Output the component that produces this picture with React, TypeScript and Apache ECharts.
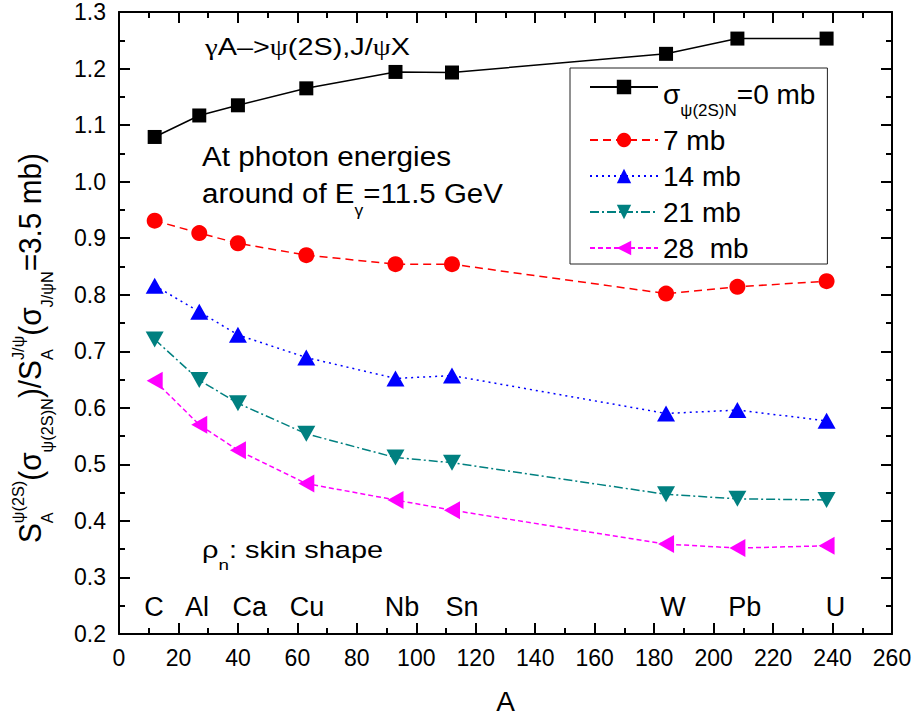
import React, { useEffect, useRef } from 'react';
import * as echarts from 'echarts';

// ---------- data ----------
const massNumbers = [12, 27, 40, 63, 93, 112, 184, 208, 238];
const ratio0mb = [1.079, 1.117, 1.135, 1.165, 1.194, 1.193, 1.226, 1.253, 1.253];
const ratio7mb = [0.931, 0.909, 0.891, 0.87, 0.854, 0.854, 0.802, 0.814, 0.824];
const ratio14mb = [0.816, 0.77, 0.729, 0.689, 0.652, 0.657, 0.59, 0.596, 0.577];
const ratio21mb = [0.721, 0.649, 0.608, 0.554, 0.512, 0.503, 0.447, 0.439, 0.437];
const ratio28mb = [0.648, 0.57, 0.525, 0.466, 0.437, 0.419, 0.359, 0.352, 0.356];
const seriesNames = ['σψ(2S)N=0 mb', '7 mb', '14 mb', '21 mb', '28  mb'];
const nucleusNames = ['C', 'Al', 'Ca', 'Cu', 'Nb', 'Sn', 'W', 'Pb', 'U'];
const nucleusLabelA = [11.8, 26.2, 44, 63.2, 95.2, 115.4, 186.3, 210.5, 241];
const nucleusLabelY = 0.248;
const xMin = 0;
const xMax = 260;
const xStep = 20;
const yMin = 0.2;
const yMax = 1.3;
const yStep = 0.1;

const allSeries = [ratio0mb, ratio7mb, ratio14mb, ratio21mb, ratio28mb];

const FONT = 'Liberation Sans';
const SERIF = 'Liberation Serif';

const seriesStyles = [
  { color: '#000000', symbol: 'rect', size: 14, dash: 'solid' as any },
  { color: '#ff0000', symbol: 'circle', size: 16, dash: [8, 5] },
  { color: '#0000ff', symbol: 'triangle', size: [18, 16], dash: [2, 4] },
  { color: '#008080', symbol: 'path://M0,0L10,0L5,10Z', size: [18, 16], dash: [9, 3, 2, 3] },
  { color: '#ff00ff', symbol: 'path://M0,5L10,0L10,10Z', size: [16, 18], dash: [5, 3] },
];

// ---------- text layout helpers ----------
type Piece = { t: string; size: number; dy: number; serif?: boolean };
let measureCtx: CanvasRenderingContext2D | null = null;
function measure(t: string, size: number, serif?: boolean) {
  if (!measureCtx) measureCtx = document.createElement('canvas').getContext('2d');
  if (!measureCtx) return t.length * size * 0.55;
  measureCtx.font = `${size}px "${serif ? SERIF : FONT}"`;
  return measureCtx.measureText(t).width;
}

function layoutRuns(cols: Piece[][], x0: number, y0: number, target?: number) {
  const widths = cols.map((c) => Math.max(...c.map((p) => measure(p.t, p.size, p.serif))));
  const total = widths.reduce((a, b) => a + b, 0);
  const sx = target ? target / total : 1;
  const els: any[] = [];
  let cx = 0;
  cols.forEach((c, i) => {
    c.forEach((p) => {
      els.push({
        type: 'text',
        x: x0 + cx * sx,
        y: y0 + p.dy,
        scaleX: sx,
        silent: true,
        style: {
          text: p.t,
          fontSize: p.size,
          fontFamily: p.serif ? SERIF : FONT,
          fill: '#000',
          align: 'left',
          verticalAlign: 'middle',
          textAlign: 'left',
          textVerticalAlign: 'middle',
        },
      });
    });
    cx += widths[i];
  });
  return els;
}

function buildGraphics() {
  const M = 31;
  const s = 17;
  const yTitle: Piece[][] = [
    [{ t: 'S', size: M, dy: 0 }],
    [{ t: 'ψ(2S)', size: s, dy: -12 }, { t: 'A', size: s, dy: 17 }],
    [{ t: '(σ', size: M, dy: 0 }],
    [{ t: 'ψ(2S)N', size: s, dy: 17 }],
    [{ t: ')/S', size: M, dy: 0 }],
    [{ t: 'J/ψ', size: s, dy: -12 }, { t: 'A', size: s, dy: 17 }],
    [{ t: '(σ', size: M, dy: 0 }],
    [{ t: 'J/ψN', size: s, dy: 17 }],
    [{ t: '=3.5 mb)', size: M, dy: 0 }],
  ];
  const line1: Piece[][] = [
    [{ t: 'γ', size: 23, dy: 0, serif: true }],
    [{ t: 'A–>', size: 23, dy: 0 }],
    [{ t: 'ψ', size: 23, dy: 0, serif: true }],
    [{ t: '(2S),J/', size: 23, dy: 0 }],
    [{ t: 'ψ', size: 23, dy: 0, serif: true }],
    [{ t: 'X', size: 23, dy: 0 }],
  ];
  const line2: Piece[][] = [[{ t: 'At photon energies', size: 27, dy: 0 }]];
  const line3: Piece[][] = [
    [{ t: 'around of E', size: 27, dy: 0 }],
    [{ t: 'γ', size: 16, dy: 18 }],
    [{ t: '=11.5 GeV', size: 27, dy: 0 }],
  ];
  const line4: Piece[][] = [
    [{ t: 'ρ', size: 23, dy: 0 }],
    [{ t: 'n', size: 15, dy: 15 }],
    [{ t: ': skin shape', size: 23, dy: 0 }],
  ];
  return [
    {
      type: 'group',
      x: 30,
      y: 543,
      rotation: Math.PI / 2,
      children: layoutRuns(yTitle, 0, 0, 390),
    },
    ...layoutRuns(line1, 205, 47.5, 205),
    ...layoutRuns(line2, 202, 156.5, 249),
    ...layoutRuns(line3, 202, 193, 301),
    ...layoutRuns(line4, 202, 550.5, 181),
  ];
}

function axisBase(extra: any) {
  return {
    type: 'value',
    axisLine: { show: true, onZero: false, lineStyle: { color: '#000', width: 2 } },
    axisTick: { show: true, inside: true, length: 11, lineStyle: { color: '#000', width: 2 } },
    minorTick: { show: true, splitNumber: 2, length: 6, lineStyle: { color: '#000', width: 2 } },
    splitLine: { show: false },
    minorSplitLine: { show: false },
    ...extra,
  };
}

function buildOption(): any {
  const lineSeries = allSeries.map((vals, i) => {
    const st = seriesStyles[i];
    return {
      type: 'line',
      name: seriesNames[i],
      data: massNumbers.map((a, j) => [a, vals[j]]),
      symbol: st.symbol,
      symbolSize: st.size,
      showAllSymbol: true,
      itemStyle: { color: st.color },
      lineStyle: { color: st.color, width: 1.5, type: st.dash },
      z: 3,
    };
  });
  const labelSeries = {
    type: 'scatter',
    name: 'nuclei',
    silent: true,
    symbolSize: 0,
    itemStyle: { color: '#000', opacity: 1 },
    data: nucleusNames.map((n, i) => ({ name: n, value: [nucleusLabelA[i], nucleusLabelY] })),
    label: {
      show: true,
      position: 'inside',
      formatter: '{b}',
      fontSize: 27,
      fontFamily: FONT,
      color: '#000',
      opacity: 1,
      textBorderWidth: 0,
    },
    z: 2,
  };
  return {
    animation: false,
    textStyle: { fontFamily: FONT, color: '#000' },
    grid: { left: 119, right: 23, top: 12, bottom: 87, containLabel: false, outerBoundsMode: 'none' },
    xAxis: [
      axisBase({
        min: xMin,
        max: xMax,
        interval: xStep,
        position: 'bottom',
        axisLabel: { fontSize: 23, color: '#000', fontFamily: FONT, margin: 12 },
        name: 'A',
        nameLocation: 'middle',
        nameGap: 53,
        nameTextStyle: { fontSize: 28, color: '#000', fontFamily: FONT },
      }),
      axisBase({
        min: xMin,
        max: xMax,
        interval: xStep,
        position: 'top',
        axisLabel: { show: false },
      }),
    ],
    yAxis: [
      axisBase({
        min: yMin,
        max: yMax,
        interval: yStep,
        position: 'left',
        axisLabel: {
          fontSize: 23,
          color: '#000',
          fontFamily: FONT,
          margin: 13,
          formatter: (v: number) => v.toFixed(1),
        },
      }),
      axisBase({
        min: yMin,
        max: yMax,
        interval: yStep,
        position: 'right',
        axisLabel: { show: false },
      }),
    ],
    legend: {
      data: seriesNames,
      orient: 'vertical',
      left: 570,
      top: 68,
      itemWidth: 68,
      itemHeight: 18,
      itemGap: 6,
      padding: [4, 12, 1, 19],
      borderColor: '#222',
      borderWidth: 1,
      backgroundColor: '#fff',
      selectedMode: false,
      formatter: (name: string) =>
        name === seriesNames[0] ? '{m|σ}{sb|ψ(2S)N}{m|=0 mb}' : name,
      textStyle: {
        fontSize: 28,
        lineHeight: 30,
        color: '#000',
        fontFamily: FONT,
        rich: {
          m: { fontSize: 28, lineHeight: 30, padding: [8.5, 0, 0, 0], verticalAlign: 'top', fontFamily: FONT, color: '#000' },
          sb: { fontSize: 17, lineHeight: 17, padding: [30, 0, 0, 0], verticalAlign: 'top', fontFamily: FONT, color: '#000' },
        },
      },
    },
    graphic: buildGraphics(),
    series: [...lineSeries, labelSeries],
  };
}

export default function App() {
  const ref = useRef<HTMLDivElement>(null);
  useEffect(() => {
    document.body.style.margin = '0';
    const chart = echarts.init(ref.current as HTMLDivElement, null, { renderer: 'svg' });
    chart.setOption(buildOption());
    return () => chart.dispose();
  }, []);
  return <div ref={ref} style={{ width: 915, height: 721 }} />;
}
